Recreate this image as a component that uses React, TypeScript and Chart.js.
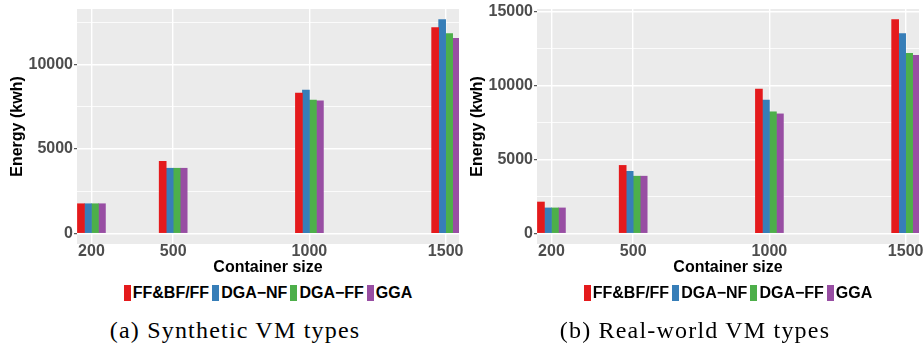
import React, { useEffect, useRef } from 'react';
import { Chart, registerables } from 'chart.js';

Chart.register(...registerables);

// ---- data ----
const containerSizes = [200, 500, 1000, 1500];
const seriesNames = ['FF&BF/FF', 'DGA\u2212NF', 'DGA\u2212FF', 'GGA'];
const seriesColors = ['#E41A1C', '#377EB8', '#4DAF4A', '#984EA3'];

// (a) Synthetic VM types
const synthFFBF = [1750, 4260, 8300, 12170];
const synthDGANF = [1750, 3850, 8480, 12640];
const synthDGAFF = [1750, 3850, 7890, 11820];
const synthGGA = [1750, 3850, 7840, 11530];
const synthYTicks = [0, 2500, 5000, 7500, 10000, 12500];

// (b) Real-world VM types
const realFFBF = [2120, 4600, 9770, 14470];
const realDGANF = [1720, 4200, 9030, 13530];
const realDGAFF = [1720, 3870, 8230, 12190];
const realGGA = [1720, 3870, 8090, 12050];
const realYTicks = [0, 2500, 5000, 7500, 10000, 12500, 15000];

const xLimits = [147, 1549];

const SANS = '"Liberation Sans", Arial, Helvetica, sans-serif';
const SERIF = '"Liberation Serif", "Times New Roman", serif';

const panelBg = {
  id: 'panelBg',
  beforeDraw(chart: any) {
    const { ctx, chartArea } = chart;
    if (!chartArea) return;
    ctx.save();
    ctx.fillStyle = '#EBEBEB';
    ctx.fillRect(chartArea.left, chartArea.top, chartArea.right - chartArea.left, chartArea.bottom - chartArea.top);
    ctx.restore();
  },
};

type PanelProps = {
  left: number;
  series: number[][];
  yTicks: number[];
  caption: string;
};

const CW = 466;
const CH = 276;

function Panel({ left, series, yTicks, caption }: PanelProps) {
  const ref = useRef<HTMLCanvasElement | null>(null);

  useEffect(() => {
    if (!ref.current) return;
    const maxVal = Math.max(...series.flat());
    const yMin = -0.05 * maxVal;
    const yMax = 1.05 * maxVal;
    const chart = new Chart(ref.current, {
      type: 'bar',
      data: {
        datasets: series.map((vals, si) => ({
          label: seriesNames[si],
          data: containerSizes.map((x, i) => ({ x, y: vals[i] })),
          backgroundColor: seriesColors[si],
          borderWidth: 0,
          barThickness: 7,
        })),
      },
      options: {
        animation: false,
        responsive: false,
        devicePixelRatio: 1,
        layout: { padding: { top: 6, right: 7, left: 0, bottom: 0 } },
        plugins: {
          legend: { display: false },
          tooltip: { enabled: false },
        },
        scales: {
          x: {
            type: 'linear',
            offset: false,
            min: xLimits[0],
            max: xLimits[1],
            afterBuildTicks: (scale: any) => {
              scale.ticks = containerSizes.map((v) => ({ value: v }));
            },
            ticks: {
              autoSkip: false,
              maxRotation: 0,
              padding: 0,
              color: '#4D4D4D',
              font: { family: SANS, size: 16, weight: 'bold', lineHeight: 1 },
              callback: (v: any) => String(v),
            },
            grid: { color: '#FFFFFF', lineWidth: 1.4, drawTicks: false, offset: false },
            border: { display: false },
            title: {
              display: true,
              text: 'Container size',
              color: '#000000',
              padding: 0,
              font: { family: SANS, size: 16, weight: 'bold', lineHeight: 1 },
            },
          },
          y: {
            type: 'linear',
            min: yMin,
            max: yMax,
            afterBuildTicks: (scale: any) => {
              scale.ticks = yTicks.map((v) => ({ value: v }));
            },
            afterFit: (scale: any) => {
              scale.width = 77;
            },
            ticks: {
              padding: 1,
              color: '#4D4D4D',
              font: { family: SANS, size: 16, weight: 'bold', lineHeight: 1 },
              callback: (v: any) => (Number(v) % 5000 === 0 ? String(v) : ''),
            },
            grid: {
              color: '#FFFFFF',
              lineWidth: (c: any) => (c.tick && c.tick.value % 5000 === 0 ? 1.4 : 0.8),
              tickLength: 3,
              tickWidth: 1,
              tickColor: (c: any) => (c.tick && c.tick.value % 5000 === 0 ? '#333333' : 'rgba(0,0,0,0)'),
            },
            border: { display: false },
            title: {
              display: true,
              text: 'Energy (kwh)',
              color: '#000000',
              padding: { top: 10, bottom: 0 },
              font: { family: SANS, size: 16, weight: 'bold', lineHeight: 1 },
            },
          },
        },
      } as any,
      plugins: [panelBg],
    });
    return () => chart.destroy();
  }, [series, yTicks]);

  return (
    <>
      <canvas
        ref={ref}
        width={CW}
        height={CH}
        style={{ position: 'absolute', left, top: 0, width: CW, height: CH }}
      />
      <div
        style={{
          position: 'absolute',
          left: left + 77,
          top: 285,
          width: 382,
          height: 16,
          display: 'flex',
          justifyContent: 'center',
          alignItems: 'center',
        }}
      >
        {seriesNames.map((name, i) => (
          <div key={name} style={{ display: 'flex', alignItems: 'center', marginRight: i < seriesNames.length - 1 ? 3 : 0 }}>
            <span style={{ display: 'inline-block', width: 7, height: 16, background: seriesColors[i], marginRight: 2 }} />
            <span style={{ fontFamily: SANS, fontWeight: 'bold', fontSize: 16, lineHeight: '16px', color: '#000' }}>{name}</span>
          </div>
        ))}
      </div>
      <div
        style={{
          position: 'absolute',
          left: left + 2,
          top: 318,
          width: CW,
          textAlign: 'center',
          fontFamily: SERIF,
          fontSize: 24,
          lineHeight: '24px',
          letterSpacing: 1.2,
          color: '#000',
          whiteSpace: 'nowrap',
        }}
      >
        {caption}
      </div>
    </>
  );
}

const synthSeries = [synthFFBF, synthDGANF, synthDGAFF, synthGGA];
const realSeries = [realFFBF, realDGANF, realDGAFF, realGGA];

export default function App() {
  return (
    <div style={{ position: 'absolute', left: 0, top: 0, width: 923, height: 352, background: '#FFFFFF', overflow: 'hidden' }}>
      <Panel left={0} series={synthSeries} yTicks={synthYTicks} caption="(a) Synthetic VM types" />
      <Panel left={460} series={realSeries} yTicks={realYTicks} caption="(b) Real-world VM types" />
    </div>
  );
}
